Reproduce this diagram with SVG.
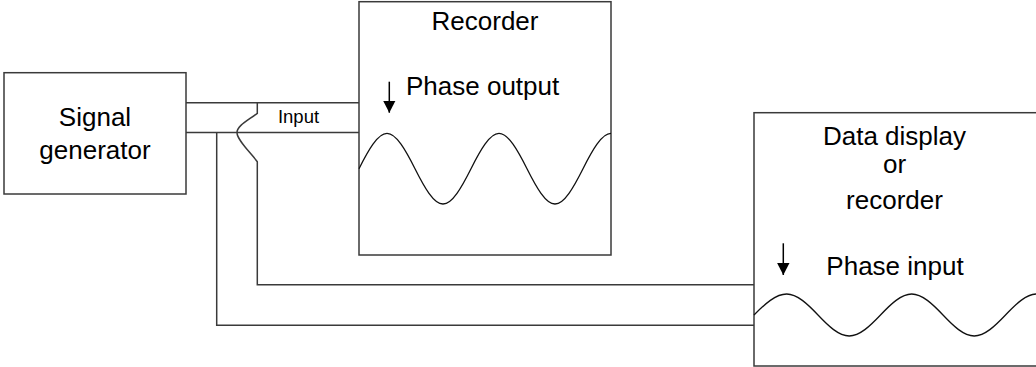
<svg xmlns="http://www.w3.org/2000/svg" width="1036" height="367" viewBox="0 0 1036 367">
<defs>
<style>
.box{fill:#fff;stroke:#3a3a3a;stroke-width:1.5}
.wire{fill:none;stroke:#3a3a3a;stroke-width:1.5}
.wave{fill:none;stroke:#111;stroke-width:1.3}
.t{font-family:"Liberation Sans",Arial,sans-serif;font-size:26px;fill:#000;text-anchor:middle}
.s{font-family:"Liberation Sans",Arial,sans-serif;font-size:18.5px;fill:#000;text-anchor:middle}
.arr{stroke:#000;stroke-width:1.5;fill:none}
</style>
<marker id="ah" viewBox="0 0 12 13" refX="12" refY="6.2" markerWidth="12" markerHeight="13" markerUnits="userSpaceOnUse" orient="auto">
<path d="M0,0 L12,6.2 L0,12.4 Z" fill="#000"/>
</marker>
</defs>
<g id="connectors">
<path class="wire" d="M186,102.7 H359"/>
<path class="wire" d="M186,132.5 H359"/>
<path class="wire" d="M216.7,132.5 V325.3 H754"/>
<path class="wire" d="M257.3,102.7 V113.3 C247,121 237,126 237,132.5 C237,140 250,152 257.3,161.7 V284.7 H754"/>
</g>
<g id="signal-generator">
<rect class="box" x="4" y="72.7" width="182" height="121.3"/>
<text class="t" x="95" y="125.7">Signal</text>
<text class="t" x="95" y="158.5">generator</text>
</g>
<g id="input-label">
<text class="s" x="298.5" y="122.7">Input</text>
</g>
<g id="recorder">
<rect class="box" x="359" y="1.7" width="252" height="253.3"/>
<text class="t" x="485" y="30">Recorder</text>
<line class="arr" x1="389.3" y1="81.7" x2="389.3" y2="112.7" marker-end="url(#ah)"/>
<text class="t" x="406" y="95" style="text-anchor:start">Phase output</text>
<path class="wave" d="M359,168.7 C368.3,150.2 377.7,133.4 387,133.4 C396.3,133.4 405.7,150.2 415,168.7 C424.3,187.2 433.7,204 443,204 C452.3,204 461.7,187.2 471,168.7 C480.3,150.2 489.7,133.4 499,133.4 C508.3,133.4 517.7,150.2 527,168.7 C536.3,187.2 545.7,204 555,204 C564.3,204 573.7,187.2 583,168.7 C592.3,150.2 601.7,133.4 611,133.4"/>
</g>
<g id="data-display">
<rect class="box" x="754" y="112.7" width="290" height="253.3"/>
<text class="t" x="894.5" y="145">Data display</text>
<text class="t" x="894.5" y="173.3">or</text>
<text class="t" x="894.5" y="209.3">recorder</text>
<line class="arr" x1="783.3" y1="243.3" x2="783.3" y2="275" marker-end="url(#ah)"/>
<text class="t" x="895" y="275">Phase input</text>
<path class="wave" d="M754,315 C764.9,304 775.8,294 786.7,294 C797.1,294 807.6,304 818,315 C828.4,326 838.8,336 849.2,336 C859.6,336 870.1,326 880.5,315 C890.9,304 901.3,294 911.7,294 C922.1,294 932.6,304 943,315 C953.4,326 963.8,336 974.2,336 C984.6,336 995.1,326 1005.5,315 C1015.9,304 1026.3,294 1036.7,294"/>
</g>
</svg>
